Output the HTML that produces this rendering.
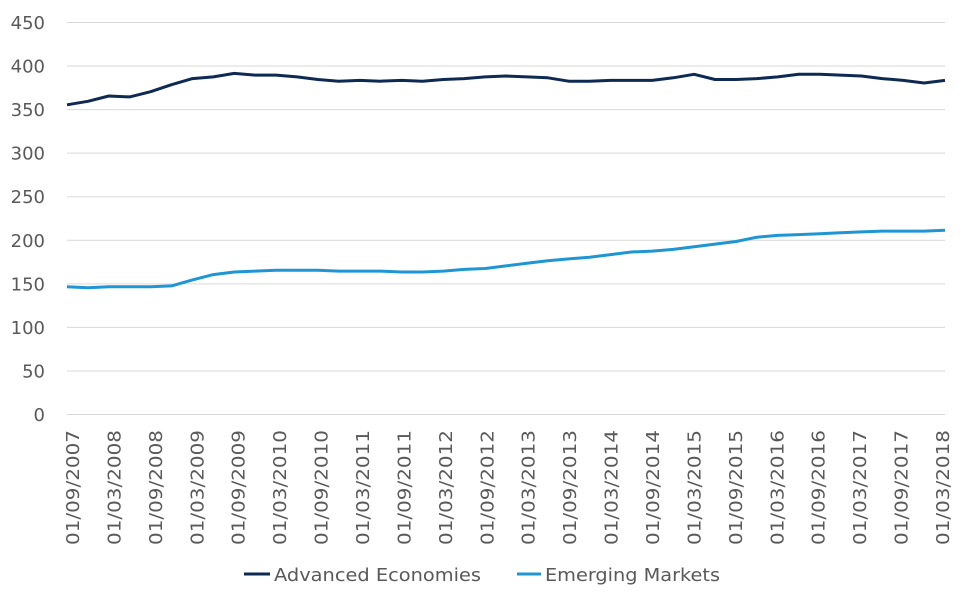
<!DOCTYPE html>
<html><head><style>
body{margin:0;background:#fff;}
text{font-family:"DejaVu Sans","Liberation Sans",sans-serif;fill:#595959;}
</style></head><body>
<svg width="960" height="600" xmlns="http://www.w3.org/2000/svg">
<g id="grid" stroke="#d9d9d9" stroke-width="1"></g>
<g id="yl" font-size="18"></g>
<g id="xl" font-size="18"></g>
<polyline id="ae" fill="none" stroke="#0e2a52" stroke-width="3" stroke-linejoin="round"/>
<polyline id="em" fill="none" stroke="#1f96d3" stroke-width="3" stroke-linejoin="round"/>
<line x1="244" y1="574" x2="270" y2="574" stroke="#0e2a52" stroke-width="3"/>
<text x="274" y="581" font-size="18" textLength="207" lengthAdjust="spacingAndGlyphs">Advanced Economies</text>
<line x1="517" y1="574" x2="541" y2="574" stroke="#1f96d3" stroke-width="3"/>
<text x="545" y="581" font-size="18" textLength="175" lengthAdjust="spacingAndGlyphs">Emerging Markets</text>
</svg>
<script>
var ns="http://www.w3.org/2000/svg";
function Y(v){return 414-v*0.8711;}
var g=document.getElementById('grid'),yl=document.getElementById('yl'),xl=document.getElementById('xl');
for(var v=0;v<=450;v+=50){var l=document.createElementNS(ns,'line');l.setAttribute('x1',67);l.setAttribute('x2',945);l.setAttribute('y1',Y(v)+.5);l.setAttribute('y2',Y(v)+.5);g.appendChild(l);
var t=document.createElementNS(ns,'text');t.setAttribute('x',45);t.setAttribute('y',Y(v)+7);t.setAttribute('text-anchor','end');t.textContent=v;yl.appendChild(t);}
var labs=[];for(var i=0;i<22;i++){var mo=i%2==0?'09':'03';var yr=2007+Math.ceil(i/2);labs.push('01/'+mo+'/'+yr);}
labs.forEach(function(s,i){var x=72+i*41.43+7;var t=document.createElementNS(ns,'text');t.setAttribute('transform','translate('+x+',545) rotate(-90)');t.setAttribute('textLength','115');t.setAttribute('lengthAdjust','spacingAndGlyphs');t.textContent=s;xl.appendChild(t);});
var ae=[355,359,365,364,370,378,385,387,391,389,389,387,384,382,383,382,383,382,384,385,387,388,387,386,382,382,383,383,383,386,390,384,384,385,387,390,390,389,388,385,383,380,383];
var em=[146,145,146,146,146,147,154,160,163,164,165,165,165,164,164,164,163,163,164,166,167,170,173,176,178,180,183,186,187,189,192,195,198,203,205,206,207,208,209,210,210,210,211];
function pts(a){return a.map(function(v,i){return (67+i*878/42).toFixed(1)+','+Y(v).toFixed(1);}).join(' ');}
document.getElementById('ae').setAttribute('points',pts(ae));
document.getElementById('em').setAttribute('points',pts(em));
</script>
</body></html>
